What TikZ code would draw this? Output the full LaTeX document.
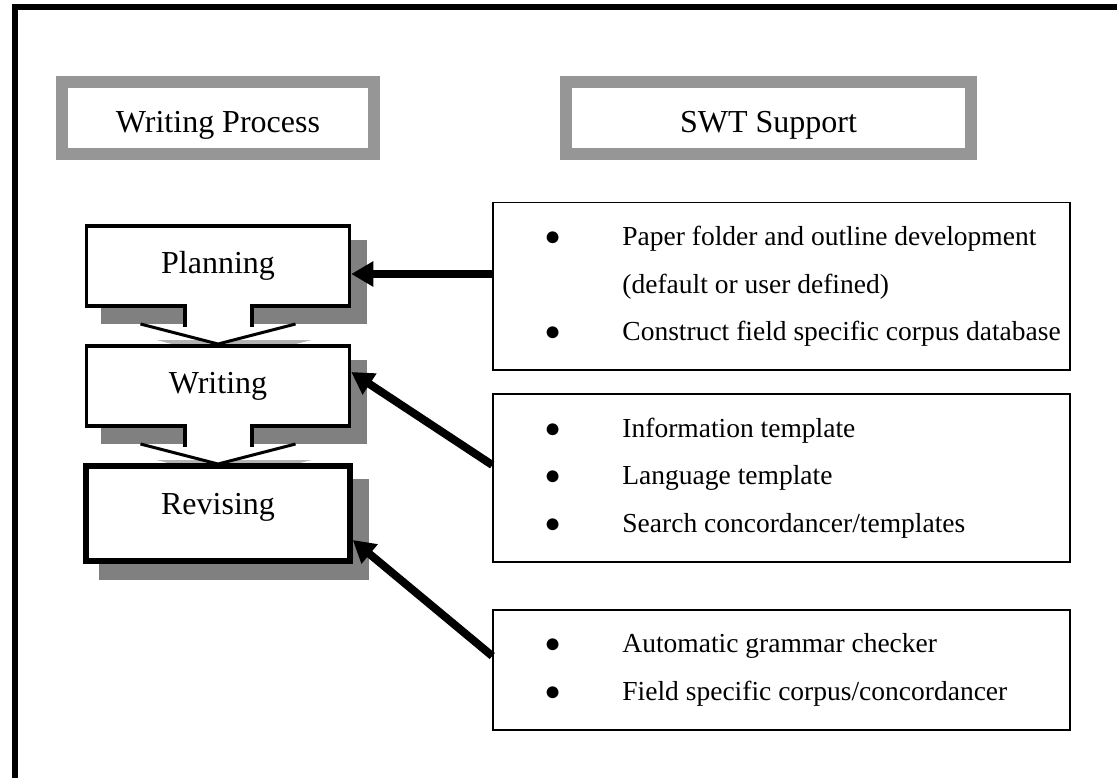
\documentclass[tikz,border=0pt]{standalone}
\usepackage{fontspec}
\setmainfont{Liberation Serif}
\usetikzlibrary{arrows.meta,backgrounds}

\newcommand{\blt}{\makebox[78pt][l]{●}}
\newcommand{\cont}{\hspace*{78pt}}

\begin{document}
\begin{tikzpicture}[x=1pt,y=-1pt,
 hdr/.style={draw=black!41,line width=12pt,minimum height=72pt,text height=36pt,text depth=7pt,font=\fontsize{32}{38}\selectfont},
 proc/.style={draw,fill=white,line width=3.5pt,minimum width=263pt,minimum height=80pt,font=\fontsize{32}{38}\selectfont},
 swtbox/.style={draw,line width=1.5pt,minimum width=577pt},
 swttxt/.style={anchor=west,inner sep=0pt,align=left,font=\fontsize{27.5}{47.5}\selectfont},
 shd/.style={fill=black!50},
 hshd/.style={fill=black!30},
 arr/.style={line width=8pt,-{Triangle[length=22pt,width=24pt]}}]
\useasboundingbox (0,0) rectangle (1117,778);
\draw[line width=5.5pt] (15,778) |- (1117,7);
% headings
\node[hdr,minimum width=312pt] (hwp) at (218,118) {Writing Process};
\node[hdr,minimum width=405pt] (hswt) at (768.5,118) {SWT Support};
% writing process
\node[proc] (plan) at (218,266) {Planning};
\node[proc] (writ) at (218,386) {Writing};
\fill[white] (185,302) rectangle (252,330);
\fill[white] (140.5,324) -- (218,344) -- (295.5,324) -- cycle;
\draw[line width=3.5pt] (185,303.75) -- (185,327) (252,303.75) -- (252,327);
\draw[line width=3pt] (140.5,324) -- (218,344) -- (295.5,324);
\fill[white] (185,422) rectangle (252,450);
\fill[white] (140.5,444) -- (218,464) -- (295.5,444) -- cycle;
\draw[line width=3.5pt] (185,424.25) -- (185,447) (252,424.25) -- (252,447);
\draw[line width=3pt] (140.5,444) -- (218,464) -- (295.5,444);
\node[proc,line width=6pt,minimum width=263.5pt,minimum height=95pt,text depth=19pt] (rev) at (218,513.5) {Revising};
\begin{scope}[on background layer]
\fill[shd] ([shift={(16,16)}]plan.south west) rectangle ([shift={(16,16)}]plan.north east);
\fill[shd] ([shift={(16,16)}]writ.south west) rectangle ([shift={(16,16)}]writ.north east);
\fill[shd] ([shift={(16,16)}]rev.south west) rectangle ([shift={(16,16)}]rev.north east);
\fill[hshd] (156.5,340) -- (234,360) -- (311.5,340) -- cycle;
\fill[hshd] (156.5,460) -- (234,480) -- (311.5,460) -- cycle;
\end{scope}
% SWT support
\node[swtbox,minimum height=167.5pt] (swt1) at (781.5,286.25) {};
\node[swttxt] (swt1t) at ([xshift=52pt]swt1.west)
 {\blt Paper folder and outline development\\\cont (default or user defined)\\\blt Construct field specific corpus database};
\node[swtbox,minimum height=168pt] (swt2) at (781.5,478) {};
\node[swttxt] (swt2t) at ([xshift=52pt]swt2.west)
 {\blt Information template\\\blt Language template\\\blt Search concordancer/templates};
\node[swtbox,minimum height=120pt] (swt3) at (781.5,670) {};
\node[swttxt] (swt3t) at ([xshift=52pt]swt3.west)
 {\blt Automatic grammar checker\\\blt Field specific corpus/concordancer};
\draw[arr] ([yshift=12.25pt]swt1.west) -- ([yshift=-8pt]plan.east);
\draw[arr] ([yshift=13pt]swt2.west) -- ([yshift=14pt]writ.east);
\draw[arr] ([yshift=14pt]swt3.west) -- ([yshift=-26.5pt]rev.east);
\end{tikzpicture}
\end{document}
